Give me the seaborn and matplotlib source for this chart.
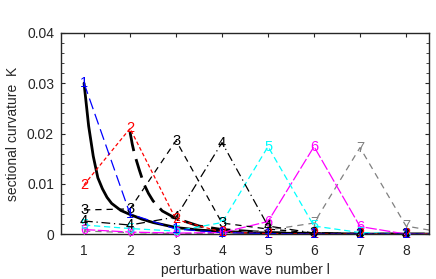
import seaborn as sns
import matplotlib
matplotlib.use("Agg")
import matplotlib.pyplot as plt
from matplotlib.ticker import MultipleLocator, FixedLocator
import pandas as pd

# wave numbers
l = [1, 2, 3, 4, 5, 6, 7, 8, 9]

# sectional curvature per mode (label = mode number)
k1 = [0.0300, 0.0040, 0.0010, 0.0003, 0.0001, 0.0000, 0.0000, 0.0000, 0.0000]
k2 = [0.0098, 0.0210, 0.0029, 0.0004, 0.0001, 0.0000, 0.0000, 0.0000, 0.0000]
k3 = [0.0048, 0.0050, 0.0186, 0.0022, 0.0010, 0.0002, 0.0000, 0.0000, 0.0000]
k4 = [0.0026, 0.0018, 0.0034, 0.0182, 0.0016, 0.0002, 0.0001, 0.0000, 0.0000]
k5 = [0.0018, 0.0011, 0.0006, 0.0023, 0.0174, 0.0016, 0.0003, 0.0000, 0.0000]
k6 = [0.0009, 0.0004, 0.0002, 0.0003, 0.0025, 0.0174, 0.0015, 0.0000, 0.0000]
k7 = [0.0006, 0.0003, 0.0001, 0.0001, 0.0008, 0.0022, 0.0172, 0.0016, 0.0000]

# smooth envelope curves (thick black)
lA = [1.0, 1.1, 1.2, 1.3, 1.4, 1.5, 1.6, 1.8, 2.0, 2.25, 2.5, 3.0, 3.5, 4.0, 5.0, 6.0, 7.0, 8.0, 8.5]
kA = [0.0300, 0.0215, 0.0155, 0.0112, 0.0090, 0.0073, 0.0061, 0.0047, 0.0039, 0.0030, 0.0023,
      0.0013, 0.0008, 0.0005, 0.0002, 0.0001, 0.0000, 0.0000, 0.0000]
lB = [2.0, 2.05, 2.1, 2.2, 2.3, 2.4, 2.5, 2.7, 3.0, 3.5, 4.0, 5.0, 6.0, 7.0, 8.0, 8.5]
kB = [0.0203, 0.0178, 0.0158, 0.0128, 0.0100, 0.0081, 0.0066, 0.0046, 0.0031, 0.0016, 0.0009,
      0.0003, 0.0001, 0.0000, 0.0000, 0.0000]

yticks = [0.0, 0.01, 0.02, 0.03, 0.04]
ytick_labels = ["0", "0.01", "0.02", "0.03", "0.04"]

modes = ["1", "2", "3", "4", "5", "6", "7"]
curves = [k1, k2, k3, k4, k5, k6, k7]
colors = ["#0000ff", "#ff0000", "#000000", "#000000", "#00ffff", "#ff00ff", "#808080"]
styles = [(0, (9, 4)), (0, (3, 2)), (0, (5, 4)), (0, (7, 3, 1, 3)), (0, (5, 3)), (0, (9, 2)), (0, (5, 4))]

sns.set_style("ticks")
plt.rcParams["font.family"] = ["Liberation Sans", "DejaVu Sans"]

fig = plt.figure(figsize=(4.36, 2.79), dpi=100)
ax = fig.add_axes([0.140, 0.161, 0.844, 0.721])

# envelopes
sns.lineplot(x=lA, y=kA, color="black", linewidth=2.0, ax=ax, sort=False)
sns.lineplot(x=lB, y=kB, color="black", linewidth=2.0, linestyle=(0, (7, 3)), ax=ax, sort=False)

# modes, drawn from 7 down to 1 so low modes sit on top
for name, vals, c, ls in reversed(list(zip(modes, curves, colors, styles))):
    sns.lineplot(x=l, y=vals, color=c, linewidth=0.9, linestyle=ls, ax=ax, sort=False)
    for xv, yv in zip(l, vals):
        if xv <= 8:
            ax.text(xv, yv, name, color=c, fontsize=10.5, ha="center", va="center")

ax.set_xlim(0.5, 8.5)
ax.set_ylim(0, 0.04)
ax.xaxis.set_major_locator(FixedLocator([1, 2, 3, 4, 5, 6, 7, 8]))
ax.yaxis.set_major_locator(FixedLocator(yticks))
ax.yaxis.set_minor_locator(MultipleLocator(0.002))
ax.set_yticklabels(ytick_labels)
ax.tick_params(which="both", direction="in", top=True, right=True, labelsize=10)
ax.tick_params(axis="x", pad=7)
ax.tick_params(axis="y", pad=5)
ax.tick_params(which="major", length=3)
ax.tick_params(which="minor", length=2)
for s in ax.spines.values():
    s.set_linewidth(1.0)

ax.set_xlabel("perturbation wave number l", fontsize=10, labelpad=4)
ax.set_ylabel("sectional curvature  K", fontsize=10, labelpad=5)

fig.savefig("out.png", dpi=100)
